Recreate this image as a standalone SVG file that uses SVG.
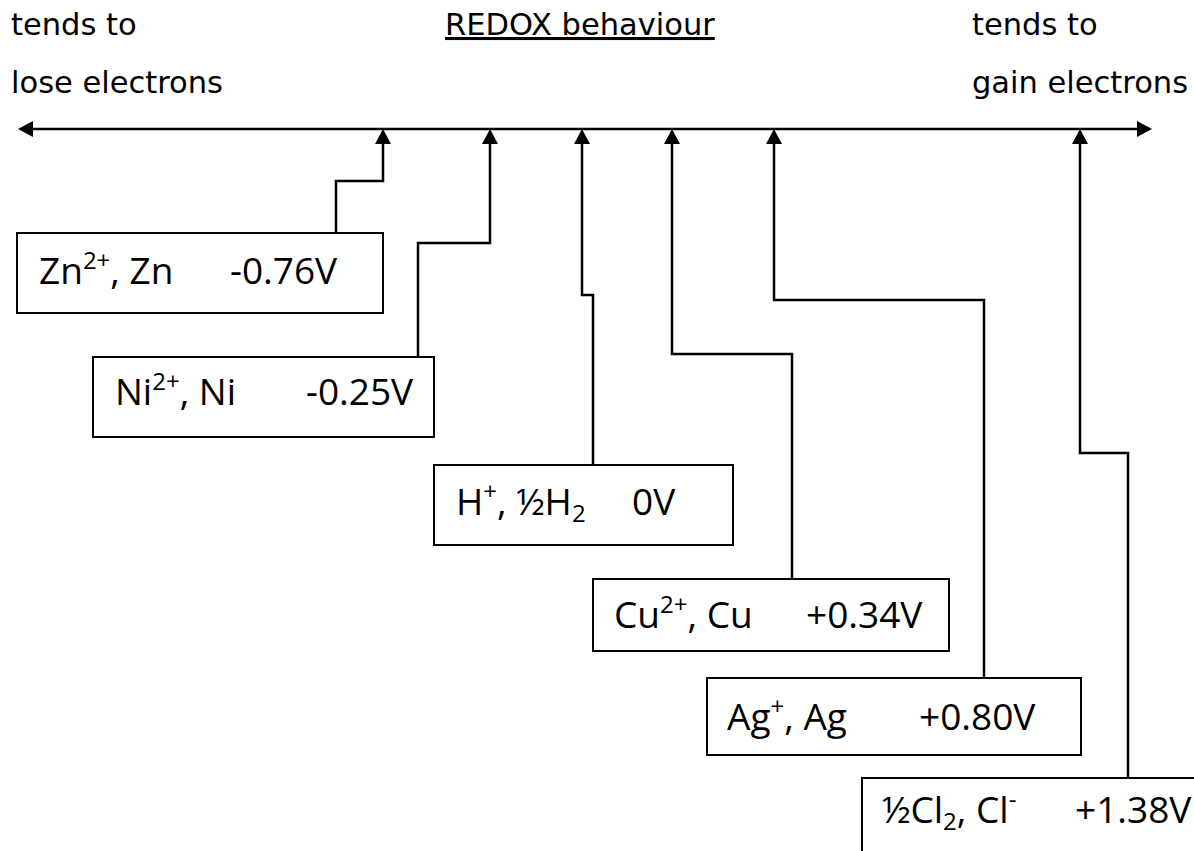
<svg xmlns="http://www.w3.org/2000/svg" width="1194" height="851" viewBox="0 0 1194 851">
<style>
.hdr{font-family:"DejaVu Sans",sans-serif;font-size:30.5px;fill:#000}
.lbl{font-family:"Open Sans","Noto Sans",sans-serif;font-size:37px;fill:#000}
.sup{font-size:24px}
.box{fill:#fff;stroke:#000;stroke-width:2}
.con{fill:none;stroke:#000;stroke-width:2.5}
</style>
<defs>
<marker id="ah" viewBox="0 0 15 16" refX="7" refY="8" markerWidth="15" markerHeight="16" markerUnits="userSpaceOnUse" orient="auto-start-reverse">
<path d="M0,0 L15,8 L0,16 z" fill="#000"/>
</marker>
</defs>
<rect width="1194" height="851" fill="#fff"/>
<g id="titles">
<text class="hdr" x="11" y="35">tends to</text>
<text class="hdr" x="11" y="93">lose electrons</text>
<text class="hdr" x="445" y="35" text-decoration="underline">REDOX behaviour</text>
<text class="hdr" x="972" y="35">tends to</text>
<text class="hdr" x="972" y="93">gain electrons</text>
</g>
<g id="connectors">
<path class="con" d="M26,129 H1144" marker-start="url(#ah)" marker-end="url(#ah)"/>
<path class="con" d="M336,233 V181 H383 V137" marker-end="url(#ah)"/>
<path class="con" d="M418,357 V243 H490 V137" marker-end="url(#ah)"/>
<path class="con" d="M593,465 V295 H582 V137" marker-end="url(#ah)"/>
<path class="con" d="M792,579 V354 H672 V137" marker-end="url(#ah)"/>
<path class="con" d="M984,678 V300 H774 V137" marker-end="url(#ah)"/>
<path class="con" d="M1128,778 V453 H1080 V137" marker-end="url(#ah)"/>
</g>
<g id="zn">
<rect class="box" x="17" y="233" width="366" height="80"/>
<text class="lbl" x="39" y="284">Zn<tspan class="sup" dy="-15">2+</tspan><tspan dy="15">, Zn</tspan><tspan x="230">-0.76V</tspan></text>
</g>
<g id="ni">
<rect class="box" x="93" y="357" width="341" height="80"/>
<text class="lbl" x="115" y="405">Ni<tspan class="sup" dy="-15">2+</tspan><tspan dy="15">, Ni</tspan><tspan x="306">-0.25V</tspan></text>
</g>
<g id="h">
<rect class="box" x="434" y="465" width="299" height="80"/>
<text class="lbl" x="456" y="515">H<tspan class="sup" dy="-15">+</tspan><tspan dy="15">, ½H</tspan><tspan class="sup" dy="7">2</tspan><tspan x="632" y="515">0V</tspan></text>
</g>
<g id="cu">
<rect class="box" x="593" y="579" width="356" height="72"/>
<text class="lbl" x="614" y="628">Cu<tspan class="sup" dy="-15">2+</tspan><tspan dy="15">, Cu</tspan><tspan x="806">+0.34V</tspan></text>
</g>
<g id="ag">
<rect class="box" x="707" y="678" width="374" height="77"/>
<text class="lbl" x="727" y="730">Ag<tspan class="sup" dy="-15">+</tspan><tspan dy="15">, Ag</tspan><tspan x="919">+0.80V</tspan></text>
</g>
<g id="cl">
<rect class="box" x="862" y="778" width="340" height="82"/>
<text class="lbl" x="882" y="823">½Cl<tspan class="sup" dy="7">2</tspan><tspan dy="-7">, Cl</tspan><tspan class="sup" dy="-15">-</tspan><tspan x="1075" y="823">+1.38V</tspan></text>
</g>
</svg>
